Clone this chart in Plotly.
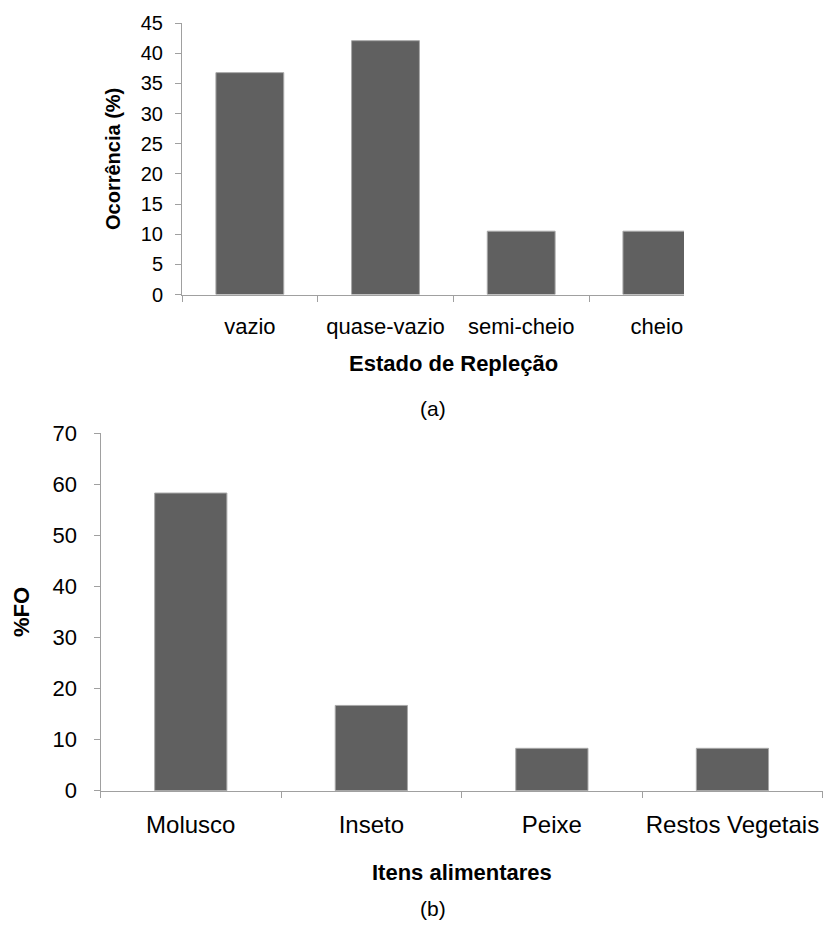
import plotly.graph_objects as go

# ---- data ----
estados = ["vazio", "quase-vazio", "semi-cheio", "cheio"]
ocorrencia = [36.8, 42.1, 10.5, 10.5]
itens = ["Molusco", "Inseto", "Peixe", "Restos Vegetais"]
freq_ocorrencia = [58.3, 16.7, 8.3, 8.3]
y1_ticks = [0, 5, 10, 15, 20, 25, 30, 35, 40, 45]
y2_ticks = [0, 10, 20, 30, 40, 50, 60, 70]

W, H = 826, 933
FONT = "Liberation Sans, Arial, Helvetica, sans-serif"
BAR = "#606060"
EDGE = "#a8a8a8"
AXIS = "#a0a0a0"


def fx(x):
    return x / W


def fy(y):
    return 1 - y / H


fig = go.Figure()
fig.add_trace(go.Bar(
    x=estados, y=ocorrencia, width=0.5,
    marker=dict(color=BAR, line=dict(color=EDGE, width=1)),
    xaxis="x", yaxis="y", hoverinfo="x+y",
))
fig.add_trace(go.Bar(
    x=itens, y=freq_ocorrencia, width=0.4,
    marker=dict(color=BAR, line=dict(color=EDGE, width=1)),
    xaxis="x2", yaxis="y2", hoverinfo="x+y",
))

common_x = dict(type="category", tickson="boundaries", ticks="outside", ticklen=6,
                tickcolor=AXIS, tickwidth=1, showline=True, linecolor=AXIS, linewidth=1,
                showgrid=False, zeroline=False, automargin=False, tickangle=0)
common_y = dict(ticks="outside", ticklen=6, tickcolor=AXIS, tickwidth=1,
                showline=True, linecolor=AXIS, linewidth=1, showgrid=False,
                zeroline=False, automargin=False)

fig.update_layout(
    width=W, height=H,
    margin=dict(l=0, r=0, t=0, b=0, pad=0, autoexpand=False),
    paper_bgcolor="white", plot_bgcolor="white",
    showlegend=False,
    font=dict(family=FONT, color="#000000"),
    xaxis=dict(domain=[fx(182), fx(684)], anchor="y", range=[-0.5, 3.2],
               ticklabelstandoff=12,
               tickfont=dict(size=22, family=FONT, color="#000"), **common_x),
    yaxis=dict(domain=[fy(294.5), fy(23.2)], anchor="x", range=[0, 45],
               tickvals=y1_ticks, ticklabelstandoff=8,
               tickfont=dict(size=20, family=FONT, color="#000"), **common_y),
    xaxis2=dict(domain=[fx(100.5), fx(822.7)], anchor="y2", range=[-0.5, 3.5],
                ticklabelstandoff=12,
                tickfont=dict(size=24, family=FONT, color="#000"), **common_x),
    yaxis2=dict(domain=[fy(790.7), fy(433.3)], anchor="x2", range=[0, 70],
                tickvals=y2_ticks, ticklabelstandoff=12,
                tickfont=dict(size=22, family=FONT, color="#000"), **common_y),
    annotations=[
        dict(text="<b>Estado de Repleção</b>", x=fx(454), y=fy(363), xref="paper", yref="paper",
             showarrow=False, font=dict(size=22, family=FONT, color="#000"),
             xanchor="center", yanchor="middle"),
        dict(text="(a)", x=fx(433), y=fy(408), xref="paper", yref="paper",
             showarrow=False, font=dict(size=21, family=FONT, color="#000"),
             xanchor="center", yanchor="middle"),
        dict(text="<b>Ocorrência (%)</b>", x=fx(113), y=fy(159), xref="paper", yref="paper",
             showarrow=False, textangle=-90, font=dict(size=20, family=FONT, color="#000"),
             xanchor="center", yanchor="middle"),
        dict(text="<b>Itens alimentares</b>", x=fx(462), y=fy(872), xref="paper", yref="paper",
             showarrow=False, font=dict(size=22, family=FONT, color="#000"),
             xanchor="center", yanchor="middle"),
        dict(text="(b)", x=fx(433), y=fy(908), xref="paper", yref="paper",
             showarrow=False, font=dict(size=21, family=FONT, color="#000"),
             xanchor="center", yanchor="middle"),
        dict(text="<b>%FO</b>", x=fx(21), y=fy(612), xref="paper", yref="paper",
             showarrow=False, textangle=-90, font=dict(size=22, family=FONT, color="#000"),
             xanchor="center", yanchor="middle"),
    ],
)

fig.write_html("out.html", config={"displayModeBar": False},
               post_script="document.body.style.margin='0px';")
